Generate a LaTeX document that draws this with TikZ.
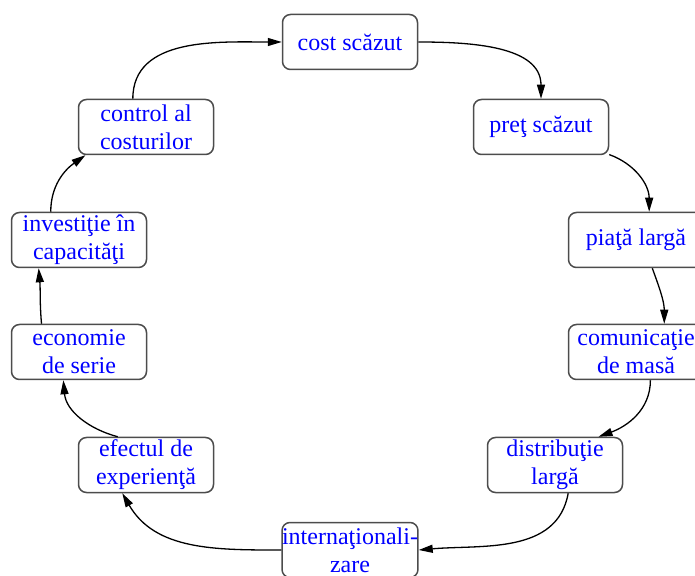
\documentclass[tikz,border=0pt]{standalone}
\usepackage{fontspec}
\setmainfont{Liberation Serif}
\usetikzlibrary{arrows.meta}
\usetikzlibrary{positioning}

\begin{document}
\begin{tikzpicture}[x=0.5pt,y=0.5pt,
		box/.style={draw=black!70,line width=0.75pt,rounded corners=4pt,fill=white,
			minimum width=67.5pt,minimum height=27.5pt,inner sep=0pt,align=center,
			text=blue,font=\fontsize{12}{14}\selectfont},
		flow/.style={draw=black,line width=0.65pt,-{Triangle[length=7pt,width=4pt]}}]
		\useasboundingbox (0,0) rectangle (695,-576);
		% the cycle, clockwise from the top
		\node[box] (cost) at (350,-42) {cost scăzut};
		\node[box] (pret) at (541,-127) {preţ scăzut};
		\node[box] (piata) at (636,-240) {piaţă largă};
		\node[box] (comun) at (636,-352) {comunicaţie\\de masă};
		\node[box] (distrib) at (555,-465) {distribuţie\\largă};
		\node[box] (intern) at (350,-550) {internaţionali-\\zare};
		\node[box] (efect) at (146,-465) {efectul de\\experienţă};
		\node[box] (econ) at (79,-352) {economie\\de serie};
		\node[box] (invest) at (79,-240) {investiţie în\\capacităţi};
		\node[box] (control) at (146,-127) {control al\\costurilor};
		% arrows
		\draw[flow] (control.115) to[out=90,in=180] (cost.west);
		\draw[flow] (cost.east) to[out=0,in=90] (pret.north);
		\draw[flow] (pret.-22) to[out=-20,in=90] (piata.65);
		\draw[flow] (piata.-60) to[out=-70,in=90] (comun.45);
		\draw[flow] (comun.-63) to[out=-90,in=20] (distrib.33);
		\draw[flow] (distrib.-65) to[out=-100,in=5] (intern.east);
		\draw[flow] (intern.west) to[out=180,in=-60] (efect.-130);
		\draw[flow] (efect.135) to[out=165,in=-85] (econ.-119);
		\draw[flow] (econ.143) to[out=95,in=-85] (invest.-145);
		\draw[flow] (invest.135) to[out=90,in=-145] (control.-155);
	\end{tikzpicture}
\end{document}
